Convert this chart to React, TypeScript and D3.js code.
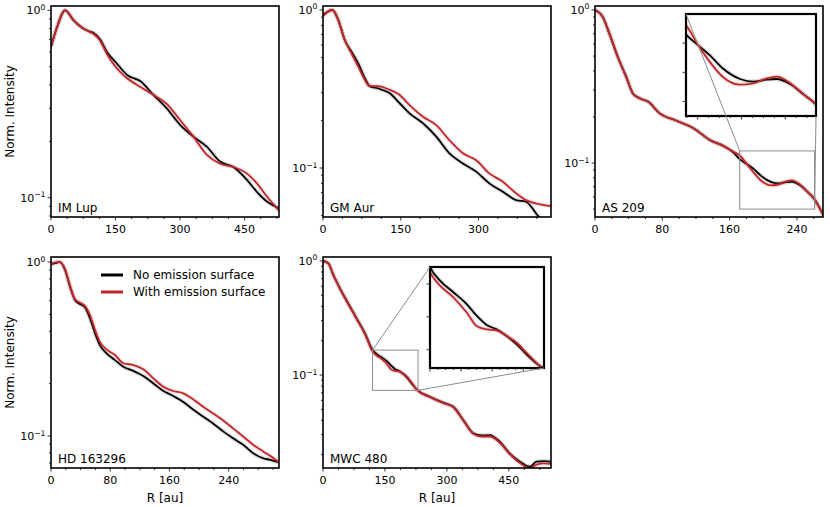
import React, { useEffect, useRef } from "react";
import * as d3 from "d3";

// IM Lup
const imLupR = [0, 13, 33, 52, 75, 91, 100, 114, 130, 150, 177, 209, 238, 269, 300, 331, 362, 393, 424, 455, 478, 502, 530];
const imLupNo = [0.64, 0.8, 1.0, 0.887, 0.8, 0.769, 0.754, 0.7, 0.6, 0.53, 0.452, 0.417, 0.354, 0.3, 0.245, 0.212, 0.1875, 0.156, 0.146, 0.125, 0.108, 0.0955, 0.088];
const imLupWith = [0.64, 0.8, 1.0, 0.887, 0.8, 0.765, 0.745, 0.69, 0.585, 0.5, 0.434, 0.389, 0.354, 0.317, 0.26, 0.212, 0.17, 0.152, 0.146, 0.135, 0.1198, 0.1016, 0.0855];

// GM Aur
const gmAurR = [0, 18, 29.5, 42, 55, 68, 81, 90, 106, 129, 148, 167, 193, 218.6, 244, 270, 295.6, 321, 347, 372.5, 391.7, 417, 440];
const gmAurNo = [0.93, 1.0, 0.864, 0.646, 0.545, 0.46, 0.37, 0.33, 0.319, 0.297, 0.257, 0.222, 0.192, 0.158, 0.124, 0.107, 0.0949, 0.08, 0.0708, 0.0627, 0.0612, 0.049, 0.043];
const gmAurWith = [0.92, 1.0, 0.864, 0.646, 0.53, 0.438, 0.36, 0.33, 0.33, 0.312, 0.29, 0.25, 0.211, 0.187, 0.15, 0.124, 0.112, 0.0925, 0.0819, 0.0692, 0.0627, 0.0592, 0.0575];

// AS 209
const as209R = [0, 9, 17, 27, 37, 45, 53, 63, 77, 97, 117, 137, 153, 164, 172, 180.4, 188.4, 197.5, 209, 218.1, 227.3, 234.1, 243.2, 252.3, 260.8, 266, 273];
const as209No = [1.0, 0.905, 0.704, 0.495, 0.367, 0.285, 0.265, 0.252, 0.211, 0.189, 0.169, 0.141, 0.129, 0.118, 0.106, 0.0985, 0.0916, 0.0824, 0.0754, 0.0736, 0.075, 0.0754, 0.072, 0.065, 0.0581, 0.052, 0.044];
const as209With = [1.0, 0.905, 0.704, 0.495, 0.367, 0.285, 0.265, 0.252, 0.211, 0.189, 0.169, 0.141, 0.129, 0.119, 0.1124, 0.0985, 0.087, 0.0766, 0.0715, 0.0724, 0.0759, 0.077, 0.0727, 0.065, 0.0581, 0.052, 0.044];

// HD 163296
const hdR = [0, 7.7, 12, 19, 25.7, 32.4, 39, 46, 52.7, 59.5, 66, 75, 86.5, 97.7, 111, 124.8, 138, 151.8, 165, 178.8, 192, 206, 219, 233, 246, 260, 273.4, 287, 296, 308];
const hdNo = [0.974, 0.99, 1.0, 0.9, 0.721, 0.605, 0.574, 0.549, 0.474, 0.389, 0.333, 0.299, 0.273, 0.25, 0.237, 0.221, 0.201, 0.1815, 0.17, 0.157, 0.142, 0.129, 0.118, 0.106, 0.097, 0.0888, 0.0795, 0.0744, 0.073, 0.0705];
const hdWith = [0.974, 1.0, 1.0, 0.91, 0.73, 0.61, 0.585, 0.559, 0.496, 0.407, 0.348, 0.315, 0.292, 0.262, 0.256, 0.242, 0.215, 0.192, 0.1815, 0.176, 0.1625, 0.147, 0.135, 0.1225, 0.1107, 0.099, 0.0888, 0.0813, 0.077, 0.0705];

// MWC 480
const mwcR = [0, 13, 25, 41, 61, 81.5, 101.7, 120, 129.7, 142.5, 155.4, 165, 174.7, 184.3, 194, 203.7, 213.3, 227.8, 259, 291, 315.5, 339.7, 364, 384, 404, 428, 452, 477, 501, 517, 535, 552];
const mwcNo = [1.0, 0.954, 0.754, 0.576, 0.425, 0.314, 0.232, 0.1654, 0.153, 0.1424, 0.1316, 0.121, 0.1126, 0.1086, 0.1025, 0.0949, 0.0856, 0.074, 0.0645, 0.0572, 0.0527, 0.0403, 0.0308, 0.0295, 0.0297, 0.026, 0.0206, 0.0174, 0.0157, 0.0174, 0.0176, 0.0174];
const mwcWith = [1.0, 0.954, 0.754, 0.57, 0.42, 0.31, 0.228, 0.1608, 0.1485, 0.1378, 0.124, 0.1117, 0.1086, 0.1077, 0.1025, 0.0964, 0.0872, 0.074, 0.064, 0.0568, 0.0522, 0.04, 0.0305, 0.0289, 0.0289, 0.0255, 0.0203, 0.0169, 0.0152, 0.0164, 0.0168, 0.0166];

const legendLabels = ["No emission surface", "With emission surface"];
const xLabel = "R [au]";
const yLabel = "Norm. Intensity";

const W = 228;
const H = 211;
const FONT = "DejaVu Sans, sans-serif";
const RED = "#c0262b";

const panels = [
  { id: "imlup", name: "IM Lup", r: imLupR, no: imLupNo, wi: imLupWith, xMax: 530, yDom: [0.079, 1.054], xt: [0, 150, 300, 450], left: 51, top: 6 },
  { id: "gmaur", name: "GM Aur", r: gmAurR, no: gmAurNo, wi: gmAurWith, xMax: 440, yDom: [0.049, 1.06], xt: [0, 150, 300], left: 323, top: 6 },
  {
    id: "as209", name: "AS 209", r: as209R, no: as209No, wi: as209With, xMax: 271, yDom: [0.0444, 1.062], xt: [0, 80, 160, 240], left: 595, top: 6,
    inset: { x: 91, y: 8, w: 130, h: 102, xDom: [172, 261], yDom: [0.05, 0.12], yt: [0.06, 0.08, 0.1] },
  },
  { id: "hd", name: "HD 163296", r: hdR, no: hdNo, wi: hdWith, xMax: 308, yDom: [0.0655, 1.069], xt: [0, 80, 160, 240], left: 51, top: 257, legend: true, xlab: true },
  {
    id: "mwc", name: "MWC 480", r: mwcR, no: mwcNo, wi: mwcWith, xMax: 552, yDom: [0.0153, 1.084], xt: [0, 150, 300, 450], left: 323, top: 257, xlab: true,
    inset: { x: 107, y: 10, w: 114, h: 101, xDom: [120, 230], yDom: [0.0734, 0.1654], yt: [0.09, 0.12, 0.15] },
  },
];

const App = () => {
  const ref = useRef<SVGSVGElement>(null);

  useEffect(() => {
    const svg = d3.select(ref.current);
    svg.selectAll("*").remove();

    // @ts-ignore
    const drawSeries = (g, x, y, r, vals, color, clip) => {
      const line = d3
        .line<number>()
        .x((_, i) => x(r[i]))
        .y((v) => y(v))
        .curve(d3.curveMonotoneX);
      const grp = g.append("g").attr("clip-path", `url(#${clip})`);
      grp.append("path").datum(vals).attr("fill", "none").attr("stroke", color).attr("stroke-opacity", 0.12).attr("stroke-width", 4.5).attr("d", line);
      grp.append("path").datum(vals).attr("fill", "none").attr("stroke", color).attr("stroke-width", 1.8).attr("d", line);
    };

    panels.forEach((p) => {
      const x = d3.scaleLinear().domain([0, p.xMax]).range([p.left, p.left + W]);
      const y = d3.scaleLog().domain(p.yDom).range([p.top + H, p.top]);
      const bottom = p.top + H;
      const clip = "clip-" + p.id;
      svg.append("clipPath").attr("id", clip).append("rect").attr("x", p.left).attr("y", p.top).attr("width", W).attr("height", H);

      const g = svg.append("g");

      // x ticks, minor every quarter of the major step
      const step = p.xt[1] / 4;
      const xMinor = d3.range(0, p.xMax + 0.001, step);
      g.selectAll(".xt")
        .data(xMinor)
        .enter()
        .append("line")
        .attr("x1", (d) => x(d))
        .attr("x2", (d) => x(d))
        .attr("y1", bottom)
        .attr("y2", (d) => bottom + (p.xt.includes(d) ? 3.5 : 2))
        .attr("stroke", "black")
        .attr("stroke-width", 0.8);
      g.selectAll(".xl")
        .data(p.xt)
        .enter()
        .append("text")
        .attr("x", (d) => x(d))
        .attr("y", bottom + 15.5)
        .attr("text-anchor", "middle")
        .attr("font-family", FONT)
        .attr("font-size", 11)
        .text((d) => d);

      // y ticks (log)
      const yT = y.ticks();
      const isMajor = (d: number) => Math.abs(Math.log10(d) - Math.round(Math.log10(d))) < 1e-6;
      g.selectAll(".yt")
        .data(yT)
        .enter()
        .append("line")
        .attr("x1", p.left)
        .attr("x2", (d) => p.left - (isMajor(d) ? 3.5 : 2))
        .attr("y1", (d) => y(d))
        .attr("y2", (d) => y(d))
        .attr("stroke", "black")
        .attr("stroke-width", 0.8);
      const yl = g
        .selectAll(".yl")
        .data(yT.filter(isMajor))
        .enter()
        .append("text")
        .attr("x", p.left - 5.5)
        .attr("y", (d) => y(d) + 4)
        .attr("text-anchor", "end")
        .attr("font-family", FONT)
        .attr("font-size", 11);
      yl.append("tspan").text("10");
      yl.append("tspan")
        .attr("font-size", 7.7)
        .attr("dy", -4.5)
        .text((d) => {
          const e = Math.round(Math.log10(d));
          return e < 0 ? "\u2212" + -e : String(e);
        });

      drawSeries(g, x, y, p.r, p.no, "black", clip);
      drawSeries(g, x, y, p.r, p.wi, RED, clip);

      // spines
      g.append("rect")
        .attr("x", p.left)
        .attr("y", p.top)
        .attr("width", W)
        .attr("height", H)
        .attr("fill", "none")
        .attr("stroke", "black")
        .attr("stroke-width", 1.6);

      g.append("text")
        .attr("x", p.left + 7)
        .attr("y", bottom - 5)
        .attr("font-family", FONT)
        .attr("font-size", 12)
        .text(p.name);

      if (p.left < 100) {
        g.append("text")
          .attr("transform", `translate(14,${p.top + H / 2}) rotate(-90)`)
          .attr("text-anchor", "middle")
          .attr("font-family", FONT)
          .attr("font-size", 12)
          .text(yLabel);
      }
      if (p.xlab) {
        g.append("text")
          .attr("x", p.left + W / 2)
          .attr("y", bottom + 34)
          .attr("text-anchor", "middle")
          .attr("font-family", FONT)
          .attr("font-size", 12)
          .text(xLabel);
      }

      if (p.legend) {
        [0, 1].forEach((i) => {
          const ly = p.top + 18 + i * 17;
          g.append("line")
            .attr("x1", p.left + 50)
            .attr("x2", p.left + 72)
            .attr("y1", ly)
            .attr("y2", ly)
            .attr("stroke", i === 0 ? "black" : RED)
            .attr("stroke-width", 3);
          g.append("text")
            .attr("x", p.left + 82)
            .attr("y", ly + 4)
            .attr("font-family", FONT)
            .attr("font-size", 12)
            .text(legendLabels[i]);
        });
      }

      if (p.inset) {
        const ins = p.inset;
        const il = p.left + ins.x;
        const it = p.top + ins.y;
        const ix = d3.scaleLinear().domain(ins.xDom).range([il, il + ins.w]);
        const iy = d3.scaleLinear().domain(ins.yDom).range([it + ins.h, it]);
        const iclip = "clip-in-" + p.id;
        svg.append("clipPath").attr("id", iclip).append("rect").attr("x", il).attr("y", it).attr("width", ins.w).attr("height", ins.h);

        const ig = svg.append("g");
        ig.append("rect").attr("x", il).attr("y", it).attr("width", ins.w).attr("height", ins.h).attr("fill", "white");

        const ixT = d3.range(Math.ceil(ins.xDom[0] / 7.5) * 7.5, ins.xDom[1] + 0.001, 7.5);
        ig.selectAll(".ixt")
          .data(ixT)
          .enter()
          .append("line")
          .attr("x1", (d) => ix(d))
          .attr("x2", (d) => ix(d))
          .attr("y1", it + ins.h)
          .attr("y2", (d) => it + ins.h + (d % 30 === 0 ? 3.5 : 2))
          .attr("stroke", "black")
          .attr("stroke-width", 0.8);
        ig.selectAll(".iyt")
          .data(ins.yt)
          .enter()
          .append("line")
          .attr("x1", il)
          .attr("x2", il - 3.5)
          .attr("y1", (d) => iy(d))
          .attr("y2", (d) => iy(d))
          .attr("stroke", "black")
          .attr("stroke-width", 0.8);

        drawSeries(ig, ix, iy, p.r, p.no, "black", iclip);
        drawSeries(ig, ix, iy, p.r, p.wi, RED, iclip);

        ig.append("rect")
          .attr("x", il)
          .attr("y", it)
          .attr("width", ins.w)
          .attr("height", ins.h)
          .attr("fill", "none")
          .attr("stroke", "black")
          .attr("stroke-width", 2.2);

        // zoom box on main axes + connectors
        const rx0 = x(ins.xDom[0]);
        const rx1 = x(ins.xDom[1]);
        const ry0 = y(ins.yDom[1]);
        const ry1 = y(ins.yDom[0]);
        const gray = "#8c8c8c";
        svg.append("rect")
          .attr("x", rx0)
          .attr("y", ry0)
          .attr("width", rx1 - rx0)
          .attr("height", ry1 - ry0)
          .attr("fill", "none")
          .attr("stroke", gray)
          .attr("stroke-width", 1);
        svg.append("line").attr("x1", il).attr("y1", it).attr("x2", rx0).attr("y2", ry0).attr("stroke", gray).attr("stroke-width", 1);
        svg.append("line").attr("x1", il + ins.w).attr("y1", it + ins.h).attr("x2", rx1).attr("y2", ry1).attr("stroke", gray).attr("stroke-width", 1);
      }
    });
  }, []);

  return (
    <svg
      ref={ref}
      width={830}
      height={507}
      style={{ position: "absolute", left: 0, top: 0, display: "block", background: "white" }}
    />
  );
};

export default App;
